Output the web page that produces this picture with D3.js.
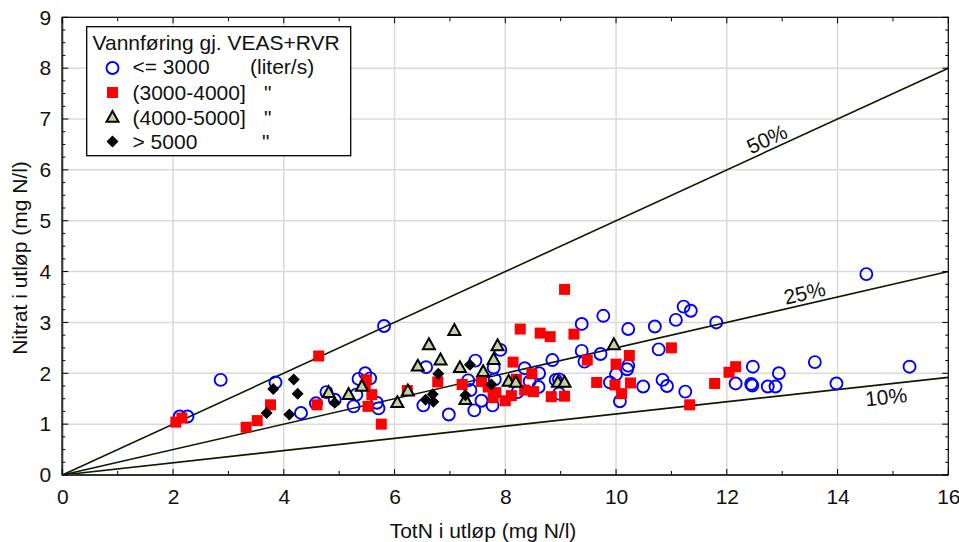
<!DOCTYPE html>
<html>
<head>
<meta charset="utf-8">
<script src="https://cdn.jsdelivr.net/npm/d3@7"></script>
<style>
  html, body { margin: 0; padding: 0; background: #fff; }
  svg { display: block; font-family: "Liberation Sans", Arial, sans-serif; }
</style>
</head>
<body>
<svg id="chart" width="959" height="542"></svg>
<script>
// ---- data ----
const xTicks = [0, 2, 4, 6, 8, 10, 12, 14, 16];
const yTicks = [0, 1, 2, 3, 4, 5, 6, 7, 8, 9];
const legendTitle = "Vannføring gj. VEAS+RVR";
const legendLabels = ["<= 3000", "(3000-4000]", "(4000-5000]", "> 5000"];
const legendUnits = ["(liter/s)", "\"", "\"", "\""];
const refSlopes = [0.5, 0.25, 0.12];
const refLabels = ["50%", "25%", "10%"];
const refLabelX = [12.81, 13.45, 14.85];

const circles = [
  [2.12,1.15],[2.26,1.15],[2.86,1.87],[3.85,1.82],[4.31,1.22],[4.58,1.41],[4.77,1.63],[4.92,1.48],
  [5.26,1.35],[5.31,1.58],[5.35,1.89],[5.47,2.00],[5.56,1.90],[5.68,1.42],[5.71,1.31],[5.81,2.93],
  [6.52,1.37],[6.57,2.12],[6.98,1.19],[7.33,1.86],[7.37,1.67],[7.46,2.25],[7.44,1.27],[7.57,1.46],
  [7.77,1.37],[7.91,2.46],[7.79,2.11],[7.81,1.88],[8.35,2.10],[8.22,1.63],[8.44,1.84],[8.61,2.00],
  [8.60,1.73],[8.85,2.26],[8.91,1.87],[8.97,1.88],[8.97,1.60],[9.38,2.97],[9.77,3.13],[10.22,2.87],
  [10.70,2.92],[11.08,3.05],[11.22,3.31],[11.35,3.23],[11.81,3.00],[14.52,3.95],[9.38,2.44],[9.43,2.23],
  [9.72,2.38],[10.77,2.47],[10.22,2.15],[10.20,2.08],[10.00,1.98],[9.89,1.82],[10.07,1.45],[10.49,1.74],
  [10.84,1.87],[10.92,1.75],[11.25,1.64],[12.47,2.13],[12.16,1.80],[12.44,1.79],[12.46,1.76],[12.74,1.74],
  [12.88,1.74],[12.94,2.00],[13.59,2.22],[13.98,1.80],[15.30,2.13]
];
const squares = [
  [2.05,1.04],[2.16,1.12],[3.32,0.94],[3.52,1.07],[3.76,1.38],[4.60,1.38],[4.63,2.34],[5.49,1.87],
  [5.47,1.76],[5.59,1.58],[5.52,1.35],[5.76,1.00],[6.23,1.66],[6.78,1.83],[7.22,1.78],[7.57,1.84],
  [7.69,1.73],[7.83,1.62],[7.78,1.52],[8.00,1.46],[8.11,1.56],[8.14,2.22],[8.20,1.88],[8.27,2.87],
  [8.35,1.67],[8.48,1.99],[8.51,1.64],[8.63,2.79],[8.81,2.72],[8.83,1.54],[9.07,3.65],[9.07,1.55],
  [9.24,2.77],[9.48,2.26],[9.65,1.82],[9.98,1.77],[10.00,2.18],[10.10,1.60],[10.24,2.35],[10.26,1.81],
  [11.00,2.50],[11.33,1.38],[11.78,1.80],[12.04,2.02],[12.16,2.13]
];
const triangles = [
  [4.81,1.62],[5.17,1.58],[5.41,1.74],[6.05,1.42],[6.24,1.65],[6.42,2.14],[6.62,2.56],[6.83,2.26],
  [7.08,2.84],[7.18,2.11],[7.28,1.48],[7.60,2.03],[7.79,2.27],[7.86,2.54],[8.06,1.84],[8.19,1.82],
  [8.95,1.82],[9.07,1.82],[9.96,2.56]
];
const diamonds = [
  [3.69,1.22],[3.81,1.69],[4.10,1.19],[4.18,1.88],[4.25,1.60],[4.92,1.42],[6.56,1.48],[6.69,1.59],
  [6.70,1.44],[6.79,1.99],[7.28,1.57],[7.36,2.17],[7.75,1.78]
];

// ---- layout ----
const svg = d3.select("#chart");
const L = 62.3, R = 948.3, T = 17.3, B = 475;
const FS = 21;
const x = d3.scaleLinear().domain([0, 16]).range([L, R]);
const y = d3.scaleLinear().domain([0, 9]).range([B, T]);

const COL_BLUE = "#0000ff", COL_RED = "#ff0000", COL_TRI = "#c3d2a3";

// gridlines
const grid = svg.append("g");
grid.selectAll("line.gx").data(xTicks.filter(d => d > 0 && d < 16)).enter().append("line")
  .attr("x1", d => x(d)).attr("x2", d => x(d)).attr("y1", T).attr("y2", B)
  .attr("stroke", "#dadada").attr("stroke-width", 1.5);
grid.selectAll("line.gy").data(yTicks.filter(d => d > 0 && d < 9)).enter().append("line")
  .attr("x1", L).attr("x2", R).attr("y1", d => y(d)).attr("y2", d => y(d))
  .attr("stroke", "#dadada").attr("stroke-width", 1.5);

// clip
svg.append("clipPath").attr("id", "clip").append("rect")
  .attr("x", L).attr("y", T).attr("width", R - L).attr("height", B - T);

// reference lines
const refG = svg.append("g").attr("clip-path", "url(#clip)");
refSlopes.forEach(s => {
  refG.append("line")
    .attr("x1", x(0)).attr("y1", y(0)).attr("x2", x(16)).attr("y2", y(16 * s))
    .attr("stroke", "#0d1a00").attr("stroke-width", 1.6);
});

// points
const pts = svg.append("g").attr("clip-path", "url(#clip)");
pts.selectAll("circle.c").data(circles).enter().append("circle")
  .attr("cx", d => x(d[0])).attr("cy", d => y(d[1])).attr("r", 6)
  .attr("fill", "none").attr("stroke", COL_BLUE).attr("stroke-width", 1.9);
const sq = 11;
pts.selectAll("rect.s").data(squares).enter().append("rect")
  .attr("x", d => x(d[0]) - sq / 2).attr("y", d => y(d[1]) - sq / 2)
  .attr("width", sq).attr("height", sq).attr("fill", COL_RED);
function triPath(cx, cy, s) {
  const h = s * 0.9;
  return `M${cx},${cy - h * 0.6}L${cx + s / 2},${cy + h * 0.4}L${cx - s / 2},${cy + h * 0.4}Z`;
}
function diaPath(cx, cy, r) {
  return `M${cx},${cy - r}L${cx + r},${cy}L${cx},${cy + r}L${cx - r},${cy}Z`;
}
pts.selectAll("path.t").data(triangles).enter().append("path")
  .attr("d", d => triPath(x(d[0]), y(d[1]), 12))
  .attr("fill", COL_TRI).attr("stroke", "#000").attr("stroke-width", 2).attr("stroke-linejoin", "miter");
pts.selectAll("path.d").data(diamonds).enter().append("path")
  .attr("d", d => diaPath(x(d[0]), y(d[1]), 6))
  .attr("fill", "#000");

// reference labels
refSlopes.forEach((s, i) => {
  const lx = refLabelX[i];
  const px = x(lx), py = y(lx * s);
  const ang = Math.atan2(y(s) - y(0), x(1) - x(0)) * 180 / Math.PI;
  const off = i === 2 ? 20 : -4;
  svg.append("text")
    .attr("transform", `translate(${px},${py}) rotate(${ang}) translate(0,${off})`)
    .attr("text-anchor", "middle")
    .attr("font-size", FS).attr("fill", "#111")
    .text(refLabels[i]);
});

// frame and ticks
svg.append("rect").attr("x", L).attr("y", T).attr("width", R - L).attr("height", B - T)
  .attr("fill", "none").attr("stroke", "#000").attr("stroke-width", 1.2);
svg.append("line").attr("x1", L).attr("x2", R).attr("y1", B).attr("y2", B)
  .attr("stroke", "#333").attr("stroke-width", 2);
svg.append("line").attr("x1", L).attr("x2", L).attr("y1", T).attr("y2", B)
  .attr("stroke", "#333").attr("stroke-width", 2);

const xMinor = d3.range(0, 16.001, 1);
const yMinor = d3.range(0, 9.001, 0.25);
const tk = svg.append("g").attr("stroke", "#000").attr("stroke-width", 1);
xMinor.forEach(v => {
  const len = (v % 2 === 0) ? 6 : 4;
  tk.append("line").attr("x1", x(v)).attr("x2", x(v)).attr("y1", B).attr("y2", B - len);
  tk.append("line").attr("x1", x(v)).attr("x2", x(v)).attr("y1", T).attr("y2", T + len);
});
yMinor.forEach(v => {
  const len = (Math.abs(v - Math.round(v)) < 1e-9) ? 6 : 3;
  tk.append("line").attr("x1", L).attr("x2", L + len).attr("y1", y(v)).attr("y2", y(v));
  tk.append("line").attr("x1", R).attr("x2", R - len).attr("y1", y(v)).attr("y2", y(v));
});

// tick labels via axes
const xAxis = d3.axisBottom(x).tickValues(xTicks).tickSize(0).tickPadding(14).tickFormat(d3.format("d"));
const gx = svg.append("g").attr("transform", `translate(0,${B})`).call(xAxis);
gx.select(".domain").remove();
gx.selectAll("text").attr("font-size", FS).attr("fill", "#111").attr("font-family", "Liberation Sans, Arial, sans-serif");

const yAxis = d3.axisLeft(y).tickValues(yTicks).tickSize(0).tickPadding(11).tickFormat(d3.format("d"));
const gy = svg.append("g").attr("transform", `translate(${L},0)`).call(yAxis);
gy.select(".domain").remove();
gy.selectAll("text").attr("font-size", FS).attr("fill", "#111").attr("font-family", "Liberation Sans, Arial, sans-serif");

// axis titles
svg.append("text").attr("x", 483).attr("y", 538).attr("text-anchor", "middle")
  .attr("font-size", FS).attr("fill", "#111").text("TotN i utløp (mg N/l)");
svg.append("text").attr("transform", "translate(27,258) rotate(-90)").attr("text-anchor", "middle")
  .attr("font-size", FS).attr("fill", "#111").text("Nitrat i utløp (mg N/l)");

// legend
const lg = svg.append("g");
lg.append("rect").attr("x", 86.7).attr("y", 26.7).attr("width", 264).attr("height", 129)
  .attr("fill", "#fff").attr("stroke", "#000").attr("stroke-width", 1.3);
lg.append("text").attr("x", 92.5).attr("y", 50).attr("font-size", FS).attr("fill", "#111").text(legendTitle);
const rowY = [74, 99.5, 124.5, 148.5];
const mx = 112.5;
lg.append("circle").attr("cx", mx).attr("cy", rowY[0] - 6).attr("r", 6)
  .attr("fill", "none").attr("stroke", COL_BLUE).attr("stroke-width", 1.9);
lg.append("rect").attr("x", mx - 5.5).attr("y", rowY[1] - 7 - 5.5).attr("width", 11).attr("height", 11).attr("fill", COL_RED);
lg.append("path").attr("d", triPath(mx, rowY[2] - 7, 12)).attr("fill", COL_TRI).attr("stroke", "#000").attr("stroke-width", 2);
lg.append("path").attr("d", diaPath(mx, rowY[3] - 7, 6)).attr("fill", "#000");
legendLabels.forEach((t, i) => {
  lg.append("text").attr("x", 132.5).attr("y", rowY[i]).attr("font-size", FS).attr("fill", "#111").text(t);
});
const unitX = [250, 264, 264, 262];
legendUnits.forEach((t, i) => {
  lg.append("text").attr("x", unitX[i]).attr("y", rowY[i]).attr("font-size", FS).attr("fill", "#111").text(t);
});
</script>
</body>
</html>
